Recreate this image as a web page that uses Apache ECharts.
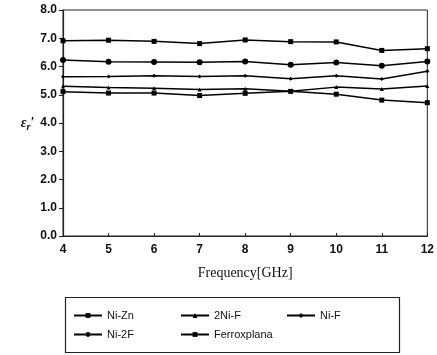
<!DOCTYPE html>
<html><head><meta charset="utf-8">
<script src="https://cdn.jsdelivr.net/npm/echarts@6/dist/echarts.min.js"></script>
<style>html,body{margin:0;padding:0;background:#fff}#c{width:437px;height:355px}</style>
</head><body><div id="c"></div>
<script>
const frequencies = [4, 5, 6, 7, 8, 9, 10, 11, 12];
const niZn        = [5.11, 5.06, 5.06, 4.97, 5.05, 5.12, 5.02, 4.81, 4.72];
const twoNiF      = [5.30, 5.26, 5.23, 5.19, 5.21, 5.12, 5.27, 5.20, 5.31];
const niF         = [5.64, 5.65, 5.67, 5.65, 5.67, 5.57, 5.67, 5.56, 5.83];
const ni2F        = [6.23, 6.17, 6.16, 6.15, 6.18, 6.06, 6.14, 6.03, 6.18];
const ferroxplana = [6.91, 6.93, 6.89, 6.81, 6.94, 6.88, 6.87, 6.57, 6.63];
const seriesNames = ['Ni-Zn', '2Ni-F', 'Ni-F', 'Ni-2F', 'Ferroxplana'];

const pair = arr => frequencies.map((f, i) => [f, arr[i]]);
const chart = echarts.init(document.getElementById('c'));
const base = {type: 'line', lineStyle: {color: '#000', width: 1.5}, itemStyle: {color: '#000'}, symbolSize: 5, animation: false};
const tickFont = {color: '#111', fontFamily: 'Liberation Sans', fontWeight: 'bold', fontSize: 12};
const legFont = {fontFamily: 'Liberation Sans', fontSize: 11, color: '#111'};
chart.setOption({
  animation: false,
  grid: {left: 63, right: 5, top: 10, bottom: 119, show: true, borderColor: '#222', borderWidth: 1},
  xAxis: {type: 'value', min: 4, max: 12, interval: 1,
    axisLine: {lineStyle: {color: '#222', width: 1.2}}, axisTick: {inside: true, length: 3, lineStyle: {color: '#222'}},
    splitLine: {show: false}, axisLabel: Object.assign({margin: 8}, tickFont),
    name: 'Frequency[GHz]', nameLocation: 'middle', nameGap: 30,
    nameTextStyle: {fontFamily: 'Liberation Serif', fontSize: 14, color: '#111'}},
  yAxis: {type: 'value', min: 0, max: 8, interval: 1,
    axisLine: {show: true, lineStyle: {color: '#222', width: 1.2}}, axisTick: {show: true, length: 4, lineStyle: {color: '#222'}},
    splitLine: {show: false}, axisLabel: Object.assign({margin: 6, formatter: v => v.toFixed(1)}, tickFont),
    name: "{e|\u03b5}{s|r}{e|\u2032}", nameLocation: 'middle', nameGap: 27, nameRotate: 0,
    nameTextStyle: {color: '#111',
      rich: {e: {fontFamily: 'Liberation Serif', fontStyle: 'italic', fontWeight: 'bold', fontSize: 14, color: '#111'},
             s: {fontFamily: 'Liberation Serif', fontStyle: 'italic', fontWeight: 'bold', fontSize: 10, color: '#111', verticalAlign: 'bottom', padding: [8, 0, 0, 0]}}}},
  legend: [
    {data: ['Ni-Zn', 'Ni-2F'], left: 68, top: 305, orient: 'vertical', itemGap: 8, itemWidth: 28, itemHeight: 6, textStyle: legFont},
    {data: ['2Ni-F', 'Ferroxplana'], left: 175, top: 305, orient: 'vertical', itemGap: 8, itemWidth: 28, itemHeight: 6, textStyle: legFont},
    {data: ['Ni-F'], left: 281, top: 305, orient: 'vertical', itemGap: 8, itemWidth: 28, itemHeight: 6, textStyle: legFont}
  ],
  graphic: [{type: 'rect', left: 63, top: 295, shape: {width: 334, height: 55},
    style: {fill: 'none', stroke: '#222', lineWidth: 1.2}}],
  series: [
    Object.assign({}, base, {name: seriesNames[0], data: pair(niZn), symbol: 'rect'}),
    Object.assign({}, base, {name: seriesNames[1], data: pair(twoNiF), symbol: 'triangle', symbolSize: 4}),
    Object.assign({}, base, {name: seriesNames[2], data: pair(niF), symbol: 'diamond', symbolSize: 4}),
    Object.assign({}, base, {name: seriesNames[3], data: pair(ni2F), symbol: 'circle', symbolSize: 6}),
    Object.assign({}, base, {name: seriesNames[4], data: pair(ferroxplana), symbol: 'rect', symbolSize: 5})
  ]
});
</script></body></html>
